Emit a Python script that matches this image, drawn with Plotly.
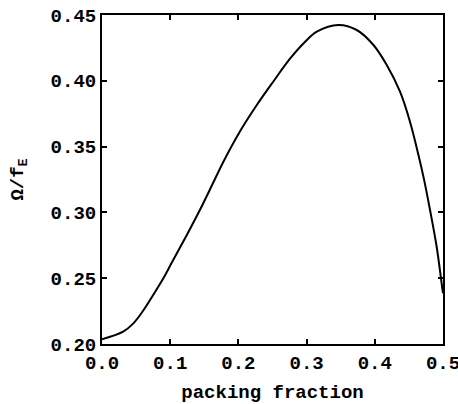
import plotly.graph_objects as go

packing_fraction = [0.0, 0.031, 0.046, 0.061, 0.075, 0.090, 0.102, 0.124, 0.1437, 0.163,
                    0.178, 0.202, 0.227, 0.251, 0.276, 0.2975, 0.315, 0.3465, 0.3735, 0.398,
                    0.4175, 0.437, 0.4516, 0.464, 0.472, 0.481, 0.4907, 0.498, 0.500]
omega_over_fE = [0.2036, 0.2094, 0.2157, 0.2258, 0.2372, 0.2499, 0.2615, 0.2825, 0.3020, 0.3225,
                 0.3385, 0.3613, 0.3816, 0.3993, 0.4170, 0.4295, 0.4373, 0.4424, 0.4386, 0.4272,
                 0.4120, 0.3917, 0.3689, 0.3436, 0.3255, 0.3018, 0.2739, 0.2461, 0.2385]

x_ticks = [0.0, 0.1, 0.2, 0.3, 0.4, 0.5]
x_tick_labels = ["0.0", "0.1", "0.2", "0.3", "0.4", "0.5"]
y_ticks = [0.20, 0.25, 0.30, 0.35, 0.40, 0.45]
y_tick_labels = ["0.20", "0.25", "0.30", "0.35", "0.40", "0.45"]

FONT = "Liberation Mono"

fig = go.Figure()
fig.add_trace(go.Scatter(
    x=packing_fraction, y=omega_over_fE, mode="lines",
    line=dict(color="black", width=2, shape="spline", smoothing=1.0),
    showlegend=False, hoverinfo="skip", cliponaxis=False))

axis_common = dict(
    showgrid=False, zeroline=False, showline=True, linecolor="black", linewidth=2,
    mirror="allticks", ticks="inside", ticklen=5, tickwidth=1.5, tickcolor="black",
    tickfont=dict(family=FONT, size=19, color="black", weight="bold"),
    automargin=False, ticklabeloverflow="allow",
)

fig.update_xaxes(range=[0, 0.5], tickvals=x_ticks, ticktext=x_tick_labels,
                 title=dict(text="packing fraction", standoff=21,
                            font=dict(family=FONT, size=19, color="black", weight="bold")),
                 **axis_common)
fig.update_yaxes(range=[0.20, 0.45], tickvals=y_ticks, ticktext=y_tick_labels,
                 title=dict(text="Ω/f<sub>E</sub>", standoff=22,
                            font=dict(family=FONT, size=19, color="black", weight="bold")),
                 **axis_common)

fig.update_layout(
    width=458, height=404,
    margin=dict(l=102, r=15, t=15, b=60),
    paper_bgcolor="white", plot_bgcolor="white",
)

# remove the default page margin so the 458x404 figure fills the window exactly
fig.write_html("out.html", config={"displayModeBar": False},
               post_script="document.body.style.margin='0';document.body.style.overflow='hidden';")
